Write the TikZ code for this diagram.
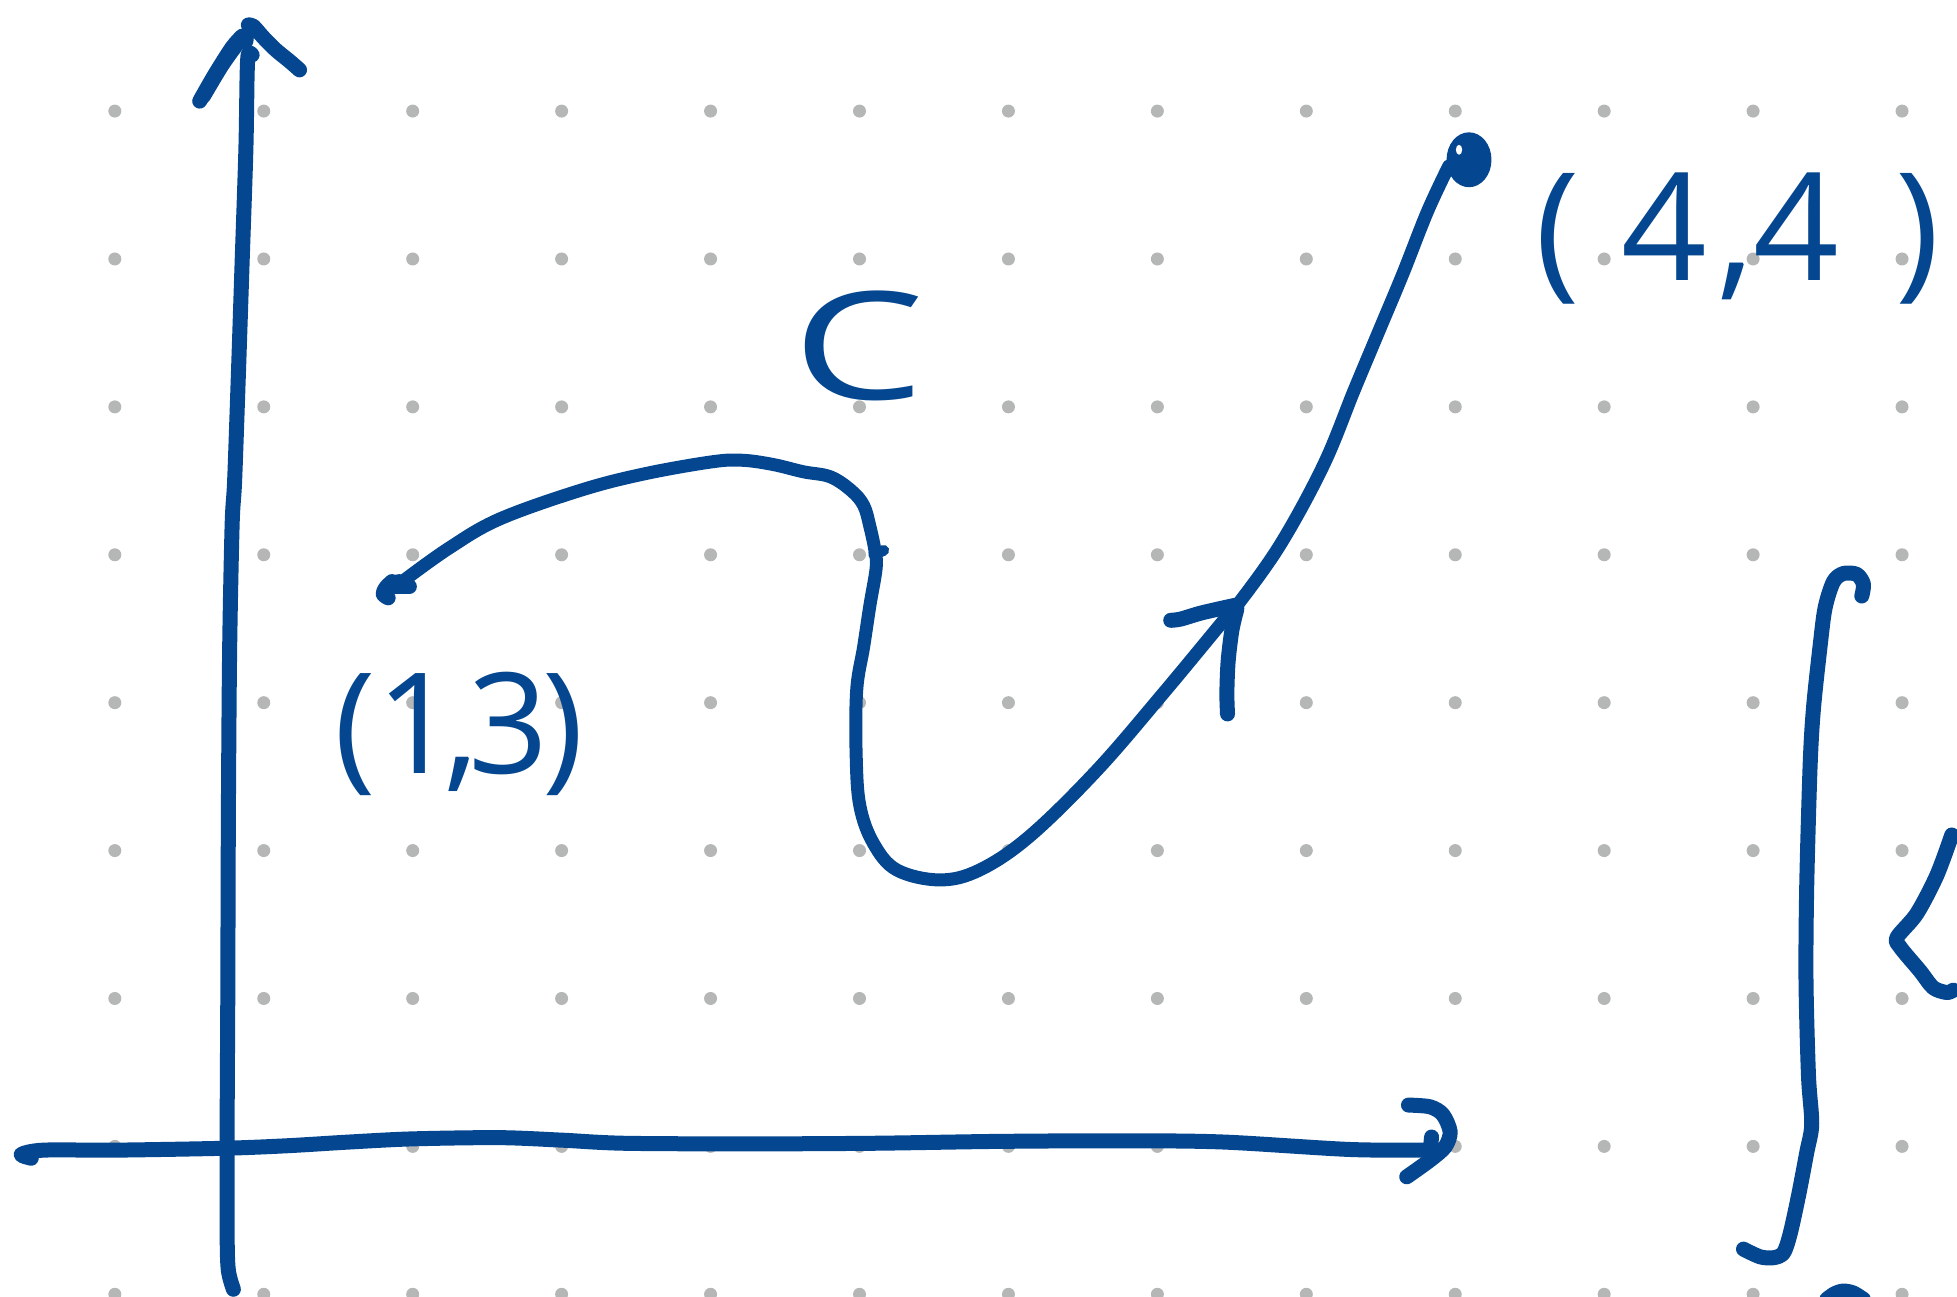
\documentclass[tikz,border=0pt]{standalone}
\usepackage{fontspec}
\setmainfont{Open Sans}
\definecolor{inkblue}{HTML}{04468F}
\definecolor{dotgray}{HTML}{B5B6B6}
\begin{document}
\begin{tikzpicture}[x=1.248pt,y=-1.248pt,
  pen/.style={draw=inkblue,line width=15pt,line cap=round,line join=round},
  thinpen/.style={pen,line width=13pt},
  lbl/.style={text=inkblue,inner sep=0pt}]
\useasboundingbox (0,0) rectangle (1568,1039);
% dot grid
\foreach \i in {0,...,12}
  \foreach \j in {0,...,8}
    \fill[dotgray] (92+119.33*\i, 89+118.5*\j) circle (6.5pt);

% y-axis
\draw[pen] plot[smooth,tension=0.5] coordinates {(187,1033) (183,1018) (182,990) (182,900) (182.5,800) (183,650) (184,520) (186,420) (188,385) (191,300) (194,210) (197,120) (198,60) (199,43) (202,44)};
\draw[pen] plot[smooth,tension=0.5] coordinates {(160,81) (172,60) (186,38) (194,29)};
\draw[pen] plot[smooth,tension=0.5] coordinates {(163,77) (178,52) (191,34) (197,28) (197,33)};
\draw[pen] plot[smooth,tension=0.5] coordinates {(199,20) (203,21) (211,30) (221,40) (232,49) (240,56)};

% x-axis
\draw[pen] plot[smooth,tension=0.5] coordinates {(25,928) (17,925) (35,921.5) (93.5,921.5) (180,920) (230,918) (280,915) (330,912.5) (400,911.5) (450,913.5) (500,916) (600,916.5) (700,916) (800,914.5) (900,914) (980,915) (1082,921) (1150,921.5)};
\draw[pen] plot[smooth,tension=0.5] coordinates {(1128.5,885.4) (1145.8,886.8) (1156,893) (1161.9,906.8) (1157.9,918.8) (1145.8,929.5) (1127.1,942.9)};
\draw[pen] (1147,911) -- (1146,921);

% curve C
\coordinate (cstart) at (320,466);
\coordinate (cend) at (1177,128);
\draw[thinpen] plot[smooth,tension=0.6] coordinates {(325,464) (360,439) (400,416) (464.6,393) (514.7,380) (568.5,370.3) (593.5,368.7) (618.6,372) (643.7,378) (665.2,382) (682,393) (692,405) (697,422) (701,441) (702,455) (697,485) (692,518) (686.4,553) (686,606) (689,646) (699.8,675.7) (718.5,697) (753,705) (785,697) (825,670) (879,617) (932,555.5) (983,494) (992,484) (1026,436) (1060.5,372.5) (1085,312.6) (1104.5,266) (1124,219.4) (1143.7,169.5) (1160.8,133)};
% start blob
\fill[inkblue] (cstart) ellipse (8 and 6);
\draw[pen] plot[smooth,tension=0.5] coordinates {(314,466) (309,471) (307,476) (311,479)};
\draw[pen] (316,470) -- (328,470);
% mid tick
\draw[pen,line width=11pt] (700,444) -- (708,441);
% arrow at (990,485)
\draw[pen] plot[smooth,tension=0.5] coordinates {(938,497) (946,496) (963,491) (989.5,485)};
\draw[pen] plot[smooth,tension=0.5] coordinates {(991,488) (987,505) (984,530) (983,555) (983.5,572)};
% end blob
\fill[inkblue] (cend) ellipse (18 and 22);
\fill[white] (1169,120) ellipse (2.5 and 4);

% labels
\node[lbl,anchor=base west,font=\fontsize{140}{140}\selectfont] (lab13) at (268,620) {(1\kern-12pt,\kern-10pt3\kern-6pt)};
\node[lbl,anchor=base west,font=\fontsize{150}{150}\selectfont] (lab44) at (1230,225) {(\kern41.7pt4\kern10pt,\kern0pt4\kern55.8pt)};
\node[lbl,anchor=base,xscale=1.4,font=\fontsize{150}{150}\selectfont] (labC) at (688,320) {C};

% integral sign
\draw[pen] plot[smooth,tension=0.5] coordinates {(1491.7,477.5) (1493,468) (1487.7,460.2) (1477,459.5) (1469,466) (1462.3,487) (1458.3,517.6) (1453,567.4) (1450.3,613.4) (1447.6,709) (1447,785.6) (1449,862) (1451.6,900.5) (1447.6,923.4) (1441,958) (1434.3,988.5) (1429,1003.8) (1421,1007.7) (1410.3,1007) (1396.9,1000.8)};
% partial angle bracket at right edge
\draw[pen] plot[smooth,tension=0.5] coordinates {(1563.8,669) (1551.8,701.4) (1535.8,732) (1520,751) (1522.4,758.8) (1538.4,778) (1549,791.4) (1559.8,795.2) (1565,793.3)};
% partial stroke at bottom edge
\draw[pen] plot[smooth,tension=0.5] coordinates {(1463.7,1041) (1470,1036.5) (1477,1034.4) (1485,1036) (1493,1041)};
\end{tikzpicture}
\end{document}
